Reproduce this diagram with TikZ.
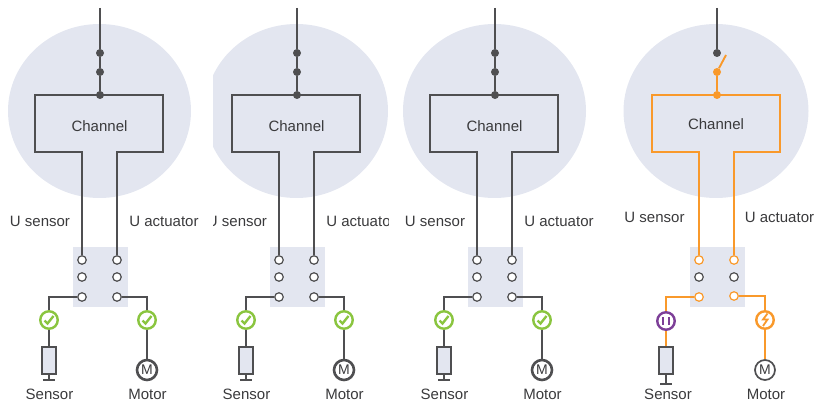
\documentclass[tikz,border=0pt]{standalone}
\usepackage{fontspec}
\setmainfont{Liberation Sans}
\definecolor{halo}{HTML}{E3E6F0}
\definecolor{wire}{HTML}{4F4F51}
\definecolor{live}{HTML}{F9992B}
\definecolor{okgreen}{HTML}{8AC53F}
\definecolor{holdviolet}{HTML}{7D3F98}
\definecolor{ink}{HTML}{3A3A3C}
\tikzset{
  lbl/.style={inner sep=0pt, text=ink, font=\fontsize{15}{18}\selectfont},
  wired/.style={line width=1.9pt, draw=wire},
  hot/.style={line width=1.9pt, draw=live},
  dot/.style={circle, fill=#1, inner sep=0pt, minimum size=8pt},
  term/.style={circle, draw=#1, fill=white, line width=1.2pt, inner sep=0pt, minimum size=8.5pt},
  badge/.style={circle, draw=#1, fill=white, line width=2.4pt, inner sep=0pt, minimum size=17.5pt},
  sensbox/.style={rectangle, draw=wire, fill=halo, line width=1.9pt, inner sep=0pt, minimum width=14pt, minimum height=27pt},
  motorbox/.style={circle, draw=wire, fill=white, text=ink, inner sep=0pt, minimum size=20pt, font=\fontsize{14}{14}\selectfont}
}
\begin{document}
\begin{tikzpicture}[x=1pt,y=-1pt]
  \useasboundingbox (0,0) rectangle (816,403);
  % three panels in the normal state
  \foreach \ax/\cl/\cr in {100/0/203, 297/213/388, 495/398/600}{
  \begin{scope}
    \clip (\cl,0) rectangle (\cr,403);
    \fill[halo] (\ax-0.5,111) ellipse [x radius=91.5, y radius=87];
    \fill[halo] (\ax-27,247) rectangle (\ax+28,307);
    \node[dot=wire] (d1) at (\ax,53) {};
    \node[dot=wire] (d2) at (\ax,72) {};
    \node[dot=wire] (d3) at (\ax,95) {};
    \coordinate (feed) at (\ax,8);
    \coordinate (lb) at (\ax-65,152);
    \coordinate (lt) at (\ax-65,95);
    \coordinate (rt) at (\ax+63,95);
    \coordinate (rb) at (\ax+63,152);
    \node[term=wire] (t1) at (\ax-18,260) {};
    \node[term=wire] (t2) at (\ax+17,260) {};
    \node[term=wire] (t3) at (\ax-18,277) {};
    \node[term=wire] (t4) at (\ax+17,277) {};
    \node[term=wire] (t5) at (\ax-18,297) {};
    \node[term=wire] (t6) at (\ax+17,297) {};
    \node[badge=okgreen] (chk1) at (\ax-51,320) {};
    \node[badge=okgreen] (chk2) at (\ax+47,320) {};
    \node[sensbox] (sens) at (\ax-51,360.5) {};
    \node[motorbox, line width=2.6pt] (mot) at (\ax+47,370) {M};
    \coordinate (gnd) at (\ax-51,380);
    \draw[wired] (feed) -- (d1) -- (d2) -- (d3);
    \draw[wired] (t1) |- (lb) -- (lt) -- (rt) -- (rb) -| (t2);
    \draw[wired] (t5) -| (chk1);
    \draw[wired] (t6) -| (chk2);
    \draw[wired] (chk1) -- (sens);
    \draw[wired] (chk2) -- (mot);
    \draw[wired] (sens) -- (gnd);
    \draw[wired] ([xshift=-6pt]gnd) -- ([xshift=6pt]gnd);
    \draw[okgreen, line width=2.4pt] ([shift={(-4.5,0.5)}]chk1.center) -- ++(3,3) -- ++(6,-7.5);
    \draw[okgreen, line width=2.4pt] ([shift={(-4.5,0.5)}]chk2.center) -- ++(3,3) -- ++(6,-7.5);
    \node[lbl] (chan) at (\ax-0.5,126) {Channel};
    \node[lbl] (usens) at (\ax-60,221) {U sensor};
    \node[lbl] (uact) at (\ax+64,221) {U actuator};
    \node[lbl] (sname) at (\ax-50.5,394) {Sensor};
    \node[lbl] (mname) at (\ax+47.5,394) {Motor};
  \end{scope}
  }
  % panel with the open switch
  \fill[halo] (716,111) ellipse [x radius=92.5, y radius=87];
  \fill[halo] (690,247) rectangle (745,307);
  \node[dot=wire] (q1) at (717,53) {};
  \node[dot=live] (q2) at (717,72) {};
  \node[dot=live] (q3) at (717,95) {};
  \coordinate (qfeed) at (717,8);
  \coordinate (qblade) at (726,55);
  \coordinate (qlb) at (652,152);
  \coordinate (qlt) at (652,95);
  \coordinate (qrt) at (780,95);
  \coordinate (qrb) at (780,152);
  \node[term=live] (p1) at (699,260) {};
  \node[term=live] (p2) at (734,260) {};
  \node[term=wire] (p3) at (699,277) {};
  \node[term=wire] (p4) at (734,277) {};
  \node[term=live] (p5) at (699,297) {};
  \node[term=live] (p6) at (734,296) {};
  \node[badge=holdviolet] (hold) at (666,321) {};
  \node[badge=live] (fault) at (765,320) {};
  \node[sensbox] (qsens) at (666,360.5) {};
  \node[motorbox, line width=1.7pt] (qmot) at (765,370) {M};
  \coordinate (qgnd) at (666,384);
  \draw[wired] (qfeed) -- (q1);
  \draw[hot] (qblade) -- (q2) -- (q3);
  \draw[hot] (p1) |- (qlb) -- (qlt) -- (qrt) -- (qrb) -| (p2);
  \draw[hot] (p5) -| (hold);
  \draw[hot] (p6) -| (fault);
  \draw[hot] (hold) -- (qsens);
  \draw[hot] (fault) -- (qmot);
  \draw[wired] (qsens) -- (qgnd);
  \draw[wired] ([xshift=-6pt]qgnd) -- ([xshift=6pt]qgnd);
  \draw[holdviolet, line width=2.2pt] ([shift={(-2.7,-4)}]hold.center) -- ++(0,8);
  \draw[holdviolet, line width=2.2pt] ([shift={(2.7,-4)}]hold.center) -- ++(0,8);
  \draw[live, line width=1.8pt] ([shift={(2.5,-6.5)}]fault.center) -- ++(-4.5,6) -- ++(4.5,0) -- ++(-4.5,6.5);
  \node[lbl] (qchan) at (716,124) {Channel};
  \node[lbl] (qusens) at (654.5,217) {U sensor};
  \node[lbl] (quact) at (779.5,217) {U actuator};
  \node[lbl] (qsname) at (668,394) {Sensor};
  \node[lbl] (qmname) at (766,394) {Motor};
\end{tikzpicture}
\end{document}
